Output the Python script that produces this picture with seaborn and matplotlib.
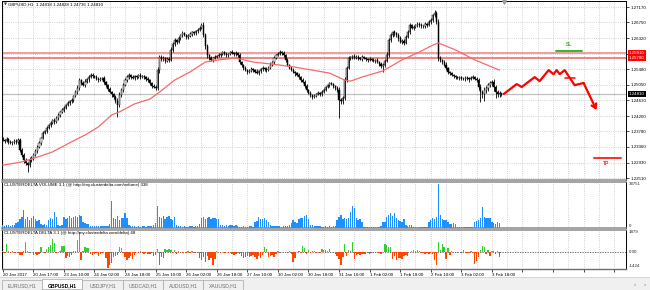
import numpy as np
import pandas as pd
import matplotlib
matplotlib.use("Agg")
import matplotlib.pyplot as plt
import matplotlib.transforms as mtrans
from matplotlib.patches import Rectangle
import seaborn as sns

# ---------------- data ----------------
first_open = 1.2360
close = [
    1.2355, 1.2352, 1.2358, 1.2350, 1.2346, 1.2349, 1.2353, 1.2348, 1.2355, 1.2327,
    1.2315, 1.2300, 1.2292, 1.2286, 1.2300, 1.2305, 1.2314, 1.2325, 1.2336, 1.2346,
    1.2360, 1.2374, 1.2380, 1.2388, 1.2395, 1.2401, 1.2409, 1.2405, 1.2415, 1.2422,
    1.2430, 1.2436, 1.2443, 1.2449, 1.2456, 1.2460, 1.2464, 1.2475, 1.2486, 1.2496,
    1.2518, 1.2510, 1.2505, 1.2513, 1.2520, 1.2527, 1.2532, 1.2529, 1.2526, 1.2522,
    1.2518, 1.2521, 1.2523, 1.2512, 1.2504, 1.2494, 1.2485, 1.2479, 1.2472, 1.2462,
    1.2450, 1.2477, 1.2490, 1.2505, 1.2518, 1.2526, 1.2532, 1.2527, 1.2523, 1.2528,
    1.2526, 1.2531, 1.2527, 1.2529, 1.2525, 1.2521, 1.2518, 1.2510, 1.2502, 1.2499,
    1.2496, 1.2545, 1.2581, 1.2575, 1.2578, 1.2571, 1.2576, 1.2573, 1.2600, 1.2615,
    1.2627, 1.2622, 1.2633, 1.2640, 1.2646, 1.2641, 1.2635, 1.2638, 1.2644, 1.2649,
    1.2645, 1.2651, 1.2654, 1.2660, 1.2668, 1.2641, 1.2610, 1.2586, 1.2578, 1.2573,
    1.2579, 1.2581, 1.2584, 1.2586, 1.2590, 1.2594, 1.2590, 1.2586, 1.2589, 1.2595,
    1.2592, 1.2588, 1.2591, 1.2586, 1.2567, 1.2558, 1.2551, 1.2546, 1.2540, 1.2544,
    1.2548, 1.2545, 1.2541, 1.2537, 1.2542, 1.2547, 1.2551, 1.2548, 1.2545, 1.2552,
    1.2560, 1.2567, 1.2578, 1.2586, 1.2590, 1.2594, 1.2591, 1.2586, 1.2572, 1.2559,
    1.2552, 1.2545, 1.2540, 1.2536, 1.2532, 1.2525, 1.2519, 1.2513, 1.2502, 1.2491,
    1.2484, 1.2477, 1.2472, 1.2475, 1.2480, 1.2483, 1.2479, 1.2485, 1.2492, 1.2498,
    1.2504, 1.2509, 1.2507, 1.2501, 1.2496, 1.2491, 1.2464, 1.2460, 1.2469, 1.2518,
    1.2550, 1.2578, 1.2580, 1.2583, 1.2579, 1.2582, 1.2578, 1.2575, 1.2581, 1.2577,
    1.2574, 1.2573, 1.2576, 1.2573, 1.2570, 1.2572, 1.2567, 1.2563, 1.2555, 1.2559,
    1.2570, 1.2586, 1.2627, 1.2640, 1.2649, 1.2645, 1.2641, 1.2632, 1.2622, 1.2625,
    1.2619, 1.2635, 1.2649, 1.2668, 1.2660, 1.2663, 1.2667, 1.2671, 1.2668, 1.2664,
    1.2665, 1.2670, 1.2668, 1.2675, 1.2682, 1.2695, 1.2701, 1.2676, 1.2578, 1.2572,
    1.2567, 1.2560, 1.2551, 1.2540, 1.2536, 1.2532, 1.2529, 1.2525, 1.2523, 1.2526,
    1.2522, 1.2521, 1.2524, 1.2523, 1.2520, 1.2524, 1.2526, 1.2522, 1.2518, 1.2500,
    1.2485, 1.2480, 1.2491, 1.2497, 1.2504, 1.2509, 1.2513, 1.2498, 1.2485, 1.2480,
    1.2482, 1.2481,
]
# wick lengths in pips above max(open, close) / below min(open, close)
wick_up = [
    4, 3, 5, 2, 4, 3, 5, 3, 4, 6,  5, 4, 6, 3, 8, 5, 4, 6, 5, 7,
    4, 6, 3, 5, 4, 6, 3, 5, 4, 6,  3, 5, 4, 3, 6, 4, 5, 3, 6, 8,
    6, 4, 5, 7, 3, 5, 4, 6, 3, 5,  4, 6, 3, 5, 4, 3, 5, 4, 3, 5,
    6, 8, 5, 4, 6, 5, 4, 3, 5, 4,  3, 4, 5, 3, 4, 3, 5, 4, 3, 4,
    5, 8, 6, 4, 5, 3, 6, 4, 7, 6,  5, 4, 6, 3, 5, 4, 3, 5, 4, 3,
    4, 3, 5, 4, 5, 8, 6, 5, 4, 6,  3, 4, 3, 5, 2, 4, 3, 5, 4, 3,
    4, 3, 5, 4, 6, 3, 4, 5, 3, 4,  5, 3, 4, 6, 3, 5, 4, 3, 5, 4,
    6, 4, 5, 3, 4, 6, 3, 5, 4, 6,  3, 4, 5, 3, 4, 5, 3, 4, 6, 4,
    3, 4, 2, 5, 3, 4, 3, 5, 4, 3,  4, 3, 5, 3, 4, 6, 8, 5, 6, 9,
    6, 5, 4, 3, 5, 4, 3, 4, 5, 3,  4, 3, 5, 3, 4, 3, 5, 4, 3, 5,
    6, 8, 5, 7, 4, 6, 5, 4, 6, 5,  4, 7, 5, 6, 4, 5, 3, 6, 4, 5,
    4, 5, 3, 6, 5, 4, 8, 6, 9, 5,  4, 5, 6, 3, 4, 5, 3, 4, 5, 3,
    4, 3, 5, 4, 3, 4, 5, 3, 4, 6,  8, 6, 9, 5, 7, 6, 5, 8, 6, 7,
    5, 1,
]
wick_dn = [
    3, 5, 4, 6, 3, 4, 5, 3, 4, 5,  6, 8, 5, 19, 6, 4, 5, 3, 6, 4,
    5, 3, 4, 6, 3, 5, 4, 6, 3, 5,  4, 3, 5, 4, 3, 5, 4, 6, 3, 5,
    5, 6, 4, 5, 3, 6, 4, 5, 3, 4,  5, 3, 4, 6, 4, 5, 3, 6, 5, 6,
    32, 6, 5, 4, 3, 5, 4, 6, 3, 4,  4, 3, 5, 4, 3, 5, 4, 6, 5, 4,
    6, 5, 7, 4, 5, 6, 4, 5, 3, 6,  4, 5, 3, 6, 4, 3, 5, 4, 3, 5,
    3, 4, 5, 3, 4, 6, 8, 7, 5, 4,  5, 3, 4, 3, 5, 4, 3, 4, 5, 3,
    3, 5, 4, 6, 5, 4, 6, 3, 5, 4,  3, 5, 4, 3, 5, 4, 3, 5, 4, 3,
    4, 3, 5, 4, 3, 5, 4, 6, 5, 4,  5, 3, 4, 6, 4, 3, 5, 4, 6, 5,
    4, 6, 5, 3, 4, 3, 5, 4, 3, 4,  3, 4, 3, 5, 4, 6, 49, 8, 6, 5,
    4, 3, 5, 4, 3, 4, 5, 3, 4, 3,  3, 5, 4, 3, 4, 5, 3, 6, 5, 15,
    5, 4, 6, 5, 4, 6, 5, 7, 4, 6,  5, 4, 3, 5, 4, 6, 3, 4, 5, 4,
    3, 4, 5, 3, 4, 6, 4, 5, 8, 6,  5, 4, 6, 5, 4, 3, 5, 4, 3, 5,
    4, 3, 5, 4, 6, 3, 4, 5, 4, 8,  27, 10, 20, 8, 9, 6, 7, 10, 15, 9,
    8, 7,
]
volume = [
    2600, 2200, 2900, 2400, 2100, 2700, 2300, 4200, 5500, 7800,
    9800, 15800, 8200, 9500, 7100, 8800, 10200, 7600, 6300, 6900,
    3200, 2800, 3900, 2600, 7200, 9100, 8400, 14300, 10100, 2400,
    2100, 2600, 9800, 8300, 9200, 10500, 8800, 9600, 10800, 9900,
    11900, 10600, 5400, 4100, 3200, 3600, 1800, 1500, 1900, 1600,
    2000, 1700, 1500, 1800, 1600, 2100, 3300, 23800, 9200, 8100,
    10300, 7400, 8800, 9100, 12900, 8600, 2300, 1600, 1400, 1800,
    1200, 1500, 1100, 1700, 1400, 1300, 1900, 1600, 2100, 2400,
    4800, 19400, 9800, 8600, 10700, 7900, 9400, 11000, 8300, 7200,
    9600, 2300, 1800, 1500, 1200, 1600, 1300, 1000, 1400, 1700,
    1200, 1900, 2200, 3800, 8900, 9500, 8300, 9100, 9400, 8200,
    8800, 9300, 7600, 8100, 3100, 2400, 2100, 2600, 2200, 2500,
    2300, 2000, 2400, 1600, 1300, 1100, 1500, 1200, 1000, 1400,
    1700, 1300, 4900, 6200, 9800, 8400, 7600, 8900, 6800, 5400,
    2400, 1900, 2200, 1700, 1500, 2000, 1300, 1600, 1800, 1400,
    2600, 4200, 6900, 5200, 4600, 8100, 9300, 8700, 10200, 11300,
    8400, 2800, 2400, 1900, 2200, 1500, 1700, 1300, 1100, 1600,
    1200, 1400, 1000, 1500, 1800, 6900, 9400, 11300, 8200, 8500,
    7900, 8600, 14300, 19400, 17300, 8500, 6700, 7800, 5400, 1000,
    900, 1100, 800, 1000, 900, 1200, 800, 1000, 2200, 5400,
    5600, 9800, 11600, 12900, 10400, 13400, 8500, 7200, 6300, 5400,
    7800, 2400, 2100, 2600, 2300, 1200, 900, 800, 1000, 900,
    800, 1100, 900, 5400, 6800, 8500, 7900, 9800, 38751, 11200,
    8200, 6700, 7400, 5400, 3900, 3700, 4100, 3600, 1200, 900,
    800, 1000, 900, 1100, 800, 1000, 900, 5400, 6100, 6900,
    9200, 18200, 9800, 8500, 9200, 8800, 5400, 4600, 3900, 5200,
    4100, 338,
]
delta = [
    120, -60, 775, 80, -90, 150, -40, 60, -110, -270,
    -250, 90, 920, 140, -80, 60, -270, -180, -240, -150,
    480, 70, -60, 310, 520, 680, 1220, 840, -90, 60,
    120, 620, 580, -570, -380, -450, -290, 90, 150, 1180,
    1879, -715, 80, 480, 360, 420, -120, -260, -180, -90,
    -300, -150, -80, 60, -520, -1424, -1160, -980, -400, -350,
    -220, 480, 390, -80, -420, -715, -560, -380, -600, -250,
    60, -40, 110, -90, -150, 40, -120, -200, -80, -310,
    -250, 320, -1160, -480, -520, 270, 180, 270, 220, -90,
    190, -150, 120, 60, -80, 40, -60, 80, -40, 150,
    -70, 60, -90, -570, -720, -450, -860, -380, -690, -520,
    -1160, -640, 120, 60, -90, 40, -70, 30, -50, 60,
    -180, -220, -150, -90, -200, -310, -560, -420, -350, -480,
    -300, -250, -410, -600, -350, -570, -280, 480, 320, -400,
    -380, -250, -420, -150, 90, -60, 40, -80, 60, -110,
    80, -120, -860, -520, 60, 120, -80, 570, 380, -150,
    240, -90, 160, 80, -60, 40, -40, 330, 180, 250,
    120, 300, 60, -90, -150, -300, -620, -1160, -450, 775,
    -330, 210, 160, 920, -630, -220, -180, -250, -150, -200,
    -120, -90, -160, -60, -100, 40, -80, -50, -120, 60,
    775, 640, 520, 480, -630, -380, -715, -560, -490, -620,
    -300, -260, -340, 60, 110, 180, 150, 170, 120, -60,
    -90, -150, -60, -120, -80, -200, -715, -1160, 920, 180,
    775, 480, -630, 360, -250, 140, -100, 60, -80, 50,
    -60, 180, 40, -90, -60, 120, -80, -1100, -820, -450,
    220, 570, 480, -180, 180, -330, 120, 90, -150, 110,
    -420, 48,
]
ma_idx = [0, 10, 17, 26, 35, 43, 50, 57, 61, 69, 77, 82, 90, 98, 106, 113, 122, 131,
          140, 152, 162, 171, 179, 182, 188, 199, 209, 218, 225, 228, 237, 247, 260]
ma_val = [1.2286, 1.2295, 1.2306, 1.2322, 1.2347, 1.2368, 1.2390, 1.2423, 1.2431, 1.2453,
          1.2466, 1.2485, 1.2518, 1.2540, 1.2567, 1.2573, 1.2578, 1.2567, 1.2562, 1.2554,
          1.2545, 1.2537, 1.2518, 1.2515, 1.2526, 1.2543, 1.2573, 1.2594, 1.2613, 1.2619,
          1.2600, 1.2573, 1.2545]
time_labels = ["20 Jan 2017", "20 Jan 17:00", "23 Jan 10:00", "24 Jan 02:00", "24 Jan 18:00",
               "25 Jan 10:00", "26 Jan 02:00", "26 Jan 18:00", "27 Jan 10:00", "30 Jan 02:00",
               "30 Jan 18:00", "31 Jan 10:00", "1 Feb 02:00", "1 Feb 18:00", "2 Feb 10:00",
               "3 Feb 02:00", "3 Feb 18:00"]
price_ticks = [1.27170, 1.26750, 1.26320, 1.25900, 1.25480, 1.25050, 1.24630,
               1.24200, 1.23780, 1.23360, 1.22930, 1.22510]
level_hi, level_lo = 1.25910, 1.25780
bid = 1.24810
ohlc_title = "GBPUSD,H1  1.24818 1.24828 1.24736 1.24810"
vol_max_label, vol_last = 38751, 338
delta_max, delta_min, delta_last = 1879, -1424, 48
# hand-drawn forecast
fc_idx = [262.2, 269.0, 271.6, 278.4, 281.0, 285.7, 288.3, 289.9, 291.5, 294.1, 299.3, 304.0]
fc_val = [1.2480, 1.2507, 1.2499, 1.2526, 1.2515, 1.2545, 1.2534, 1.2545, 1.2534, 1.2545, 1.2504, 1.2510]
fc_tip = (310.8, 1.2436)
fc_mark = ([294.1, 299.3], 1.2524)
sl_span, sl_price = (289.4, 303.0), 1.2597
tp_span, tp_price = (309.3, 323.4), 1.2306
tabs = ["EURUSD,H1", "GBPUSD,H1", "USDJPY,H1", "USDCAD,H1", "AUDUSD,H1", "XAUUSD,H1"]

# ---------------- derived OHLC ----------------
c = np.array(close)
o = np.r_[first_open, c[:-1]]
hi = np.maximum(o, c) + np.array(wick_up) * 1e-4
lo = np.minimum(o, c) - np.array(wick_dn) * 1e-4
idx = np.arange(len(c))
df = pd.DataFrame({"i": idx, "open": o, "close": c, "high": hi, "low": lo,
                   "volume": volume, "delta": delta})

# ---------------- figure ----------------
sns.set_theme(style="white")
plt.rcParams["font.family"] = ["Liberation Sans", "DejaVu Sans"]
plt.rcParams["axes.linewidth"] = 0.8
W, H = 650, 290
FS = 3.2
fig = plt.figure(figsize=(6.5, 2.9), dpi=100)
fig.patch.set_facecolor("white")


def rect(x0, y0, x1, y1):
    return [x0 / W, 1 - y1 / H, (x1 - x0) / W, (y1 - y0) / H]


ax = fig.add_axes(rect(2, 1, 626, 180))
axv = fig.add_axes(rect(2, 182, 626, 228), sharex=ax)
axd = fig.add_axes(rect(2, 230, 626, 269), sharex=ax)

XL = (-0.4, 326.2)
grid_kw = dict(color="#C4C4C4", linestyle=(0, (1, 1.6)), linewidth=0.6)

for a in (ax, axv, axd):
    a.set_facecolor("white")
    a.set_xticks(range(0, 321, 16))
    a.set_xticks(range(8, 321, 16), minor=True)
    a.grid(axis="x", which="both", **grid_kw)
    a.set_axisbelow(True)
    for s in a.spines.values():
        s.set_color("#000000")
        s.set_linewidth(0.7)

# ---- price panel ----
ax.set_yticks(price_ticks)
ax.grid(axis="y", which="major", **grid_kw)
ax.axhline(bid, color="#C0C0C0", lw=0.9, zorder=1)
ax.axhline(level_hi, color="#F08282", lw=1.1, zorder=2)
ax.axhline(level_lo, color="#F08282", lw=1.4, zorder=2)

ax.vlines(df["i"], df["low"], df["high"], color="black", lw=0.6, zorder=3)
bull = df["close"] >= df["open"]
body_h = np.maximum((df["close"] - df["open"]).abs(), 0.00006)
body_b = np.minimum(df["open"], df["close"])
ax.bar(df["i"], body_h, bottom=body_b, width=0.62,
       color=np.where(bull, "white", "black"), edgecolor="black", linewidth=0.35, zorder=4)

sns.lineplot(x=ma_idx, y=ma_val, ax=ax, color="#F56A6A", linewidth=0.9, zorder=5)

sns.lineplot(x=fc_idx, y=fc_val, ax=ax, color="#FF0000", linewidth=1.6, sort=False, zorder=6)
ax.annotate("", xy=fc_tip, xytext=(fc_idx[-1], fc_val[-1]),
            arrowprops=dict(arrowstyle="->,head_length=0.5,head_width=0.3", color="#FF0000",
                            lw=1.6, mutation_scale=6, shrinkA=0, shrinkB=0), zorder=6)
ax.plot(fc_mark[0], [fc_mark[1]] * 2, color="#FF0000", lw=1.1, zorder=6)
ax.plot(sl_span, [sl_price] * 2, color="#2EB82E", lw=1.4, zorder=6)
ax.text(np.mean(sl_span), sl_price + 0.0011, "SL", color="#2EB82E", fontsize=3.6,
        ha="center", va="bottom", fontweight="bold")
ax.plot(tp_span, [tp_price] * 2, color="#FF2A2A", lw=1.4, zorder=6)
ax.text(np.mean(tp_span) - 0.3, tp_price - 0.0008, "TP", color="#FF2A2A", fontsize=3.6,
        ha="center", va="top", fontweight="bold")

ax.set_ylim(1.22456, 1.27334)
ax.yaxis.tick_right()
ax.set_yticklabels([f"{v:.5f}" if abs(v - 1.259) > 1e-6 else "" for v in price_ticks])
ax.tick_params(axis="y", right=True, length=2, width=0.5, pad=1, labelsize=FS, colors="black")
ax.tick_params(axis="x", bottom=False, labelbottom=False)

bt = mtrans.blended_transform_factory(ax.transAxes, ax.transData)
for val, fc in ((level_hi, "#FF0000"), (level_lo, "#FF0000"), (bid, "#000000")):
    ax.text(1.0048, val, f"{val:.5f}", transform=bt, fontsize=FS, color="white", va="center",
            ha="left", bbox=dict(boxstyle="square,pad=0.22", fc=fc, ec="none"), clip_on=False)

ax.text(0.0035, 0.993, "\u25bc ", transform=ax.transAxes, fontsize=2.8, va="top", ha="left",
        color="#404040", family=["DejaVu Sans"])
ax.text(0.0095, 0.992, ohlc_title, transform=ax.transAxes, fontsize=FS, va="top", ha="left",
        color="black")
ax.plot([262.2], [0.995], transform=mtrans.blended_transform_factory(ax.transData, ax.transAxes),
        marker="v", ms=2.6, color="#9A9A9A", clip_on=False, zorder=7)

# ---- volume panel ----
axv.bar(df["i"], df["volume"], width=0.72, color="#1E90FF", linewidth=0, zorder=3)
axv.set_ylim(0, vol_max_label * 46 / 43.7)
axv.set_yticks([])
axv.tick_params(axis="x", bottom=False, labelbottom=False)
axv.text(0.003, 0.975, f"CLUSTERDELTA VOLUME 3.1 (@ http://my.clusterdelta.com/volume) {vol_last}",
         transform=axv.transAxes, fontsize=FS, va="top", ha="left", color="black")
bv = mtrans.blended_transform_factory(axv.transAxes, axv.transData)
axv.text(1.0048, vol_max_label, f"{vol_max_label}", transform=bv, fontsize=FS, va="center",
         ha="left", clip_on=False)
axv.text(1.0048, 0, "0", transform=bv, fontsize=FS, va="bottom", ha="left", clip_on=False)

# ---- delta panel ----
dcol = np.where(df["delta"] >= 0, "#32CD32", "#FF4500")
axd.bar(df["i"], df["delta"], width=0.72, color=dcol, linewidth=0, zorder=3)
axd.axhline(0, color="#505050", lw=0.6, ls=(0, (1.5, 1.5)), zorder=2)
axd.set_ylim(delta_min - 1.3 * 92, delta_max + 2 * 92)
axd.set_yticks([])
axd.text(0.003, 0.97, f"CLUSTERDELTA DELTA 3.1 (@ http://my.clusterdelta.com/delta) {delta_last}",
         transform=axd.transAxes, fontsize=FS, va="top", ha="left", color="black", zorder=8)
bd = mtrans.blended_transform_factory(axd.transAxes, axd.transData)
axd.text(1.0048, delta_max, f"{delta_max}", transform=bd, fontsize=FS, va="center", ha="left", clip_on=False)
axd.text(1.0048, 0, "0.00", transform=bd, fontsize=FS, va="center", ha="left", clip_on=False)
axd.text(1.0048, delta_min, f"{delta_min}", transform=bd, fontsize=FS, va="bottom", ha="left", clip_on=False)

labels = time_labels + [""] * (len(range(0, 321, 16)) - len(time_labels))
axd.set_xticklabels(labels, ha="left")
axd.tick_params(axis="x", which="major", bottom=True, length=2, width=0.5, pad=1.2,
                labelsize=FS, colors="black")
axd.tick_params(axis="x", which="minor", bottom=False)
ax.set_xlim(*XL)

# separators between panels
for a in (ax, axv):
    a.spines["bottom"].set_color("#8A8A8A")
    a.spines["bottom"].set_linewidth(1.1)
for a in (axv, axd):
    a.spines["top"].set_color("#8A8A8A")
    a.spines["top"].set_linewidth(1.1)
axd.spines["bottom"].set_color("#6E6E6E")
axd.spines["bottom"].set_linewidth(1.0)

# ---- terminal tab bar ----
axt = fig.add_axes([0, 0, 1, 13 / H])
axt.set_xlim(0, W)
axt.set_ylim(290, 277)
axt.axis("off")
axt.add_patch(Rectangle((0, 277), W, 13, fc="#F0F0F0", ec="none"))
axt.plot([0, W], [277.4, 277.4], color="#D0D0D0", lw=0.6)
for k, t in enumerate(tabs):
    x0 = 2 + 40.2 * k
    act = k == 1
    axt.add_patch(Rectangle((x0, 279.5 if act else 280.5), 40.2, 10,
                            fc="white" if act else "#F0F0F0", ec="#A8A8A8", lw=0.5))
    axt.text(x0 + 20.1, 285.3, t, ha="center", va="center", fontsize=3.6,
             color="black" if act else "#6A6A6A", fontweight="bold" if act else "normal")
axt.text(635, 284.5, "\u2039", ha="center", va="center", fontsize=4.5, color="#707070")
axt.text(645, 284.5, "\u203a", ha="center", va="center", fontsize=4.5, color="#707070")

fig.savefig("out.png", dpi=100)
